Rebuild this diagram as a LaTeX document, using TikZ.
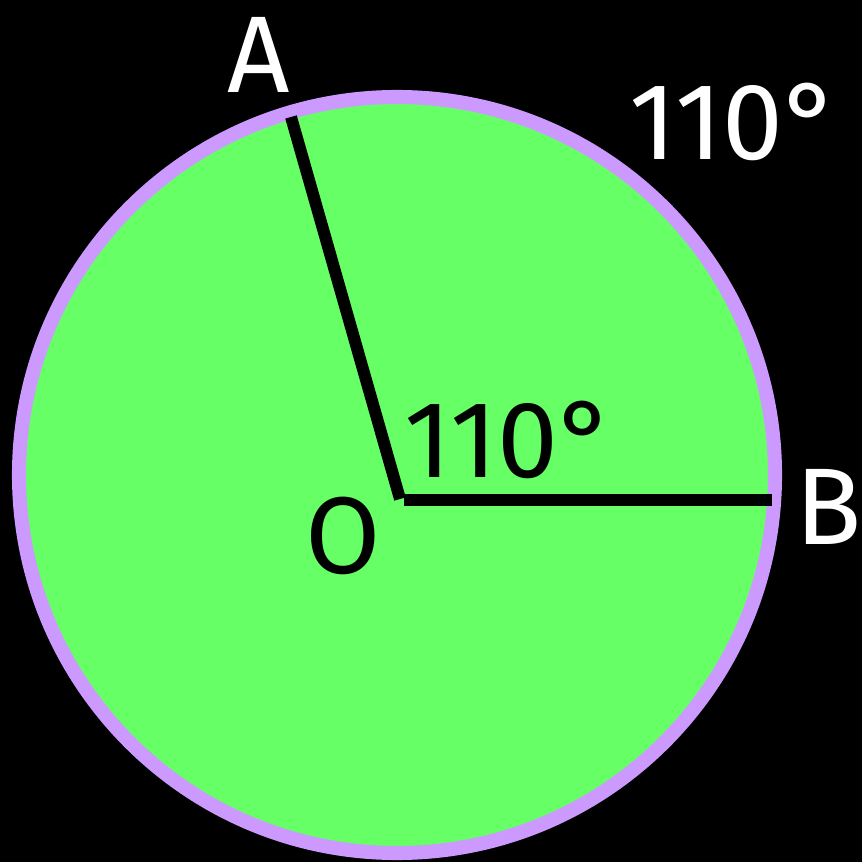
\documentclass[tikz,border=0pt]{standalone}
\usepackage{fontspec}
\setmainfont{Fira Sans}
\definecolor{bg}{HTML}{000000}
\definecolor{disc}{HTML}{66FF66}
\definecolor{rim}{HTML}{CC99FF}
\begin{document}
\begin{tikzpicture}[x=0.01cm,y=-0.01cm,
  spoke/.style={line width=3.4pt,black},
  lab/.style={font=\fontsize{31}{31}\selectfont,inner sep=0pt},
  wlab/.style={lab,text=white},
  blab/.style={lab,text=black}]
\fill[bg] (0,0) rectangle (862,862);
\useasboundingbox (0,0) rectangle (862,862);
\filldraw[fill=disc,draw=rim,line width=4pt] (397,475) circle[radius=378];
\coordinate (O) at (400,499);
\coordinate (A) at (291,117);
\coordinate (B) at (772,500);
\coordinate (O2) at (404,500);
\draw[spoke] (O) -- (A);
\draw[spoke] (O2) -- (B);
\node[wlab] (la) at (259,55) {A};
\node[wlab] (arc) at (735,122) {110°};
\node[blab] (ang) at (510,440) {110°};
\node[blab] (lo) at (343,536) {O};
\node[wlab] (lb) at (829,507) {B};
\end{tikzpicture}
\end{document}
